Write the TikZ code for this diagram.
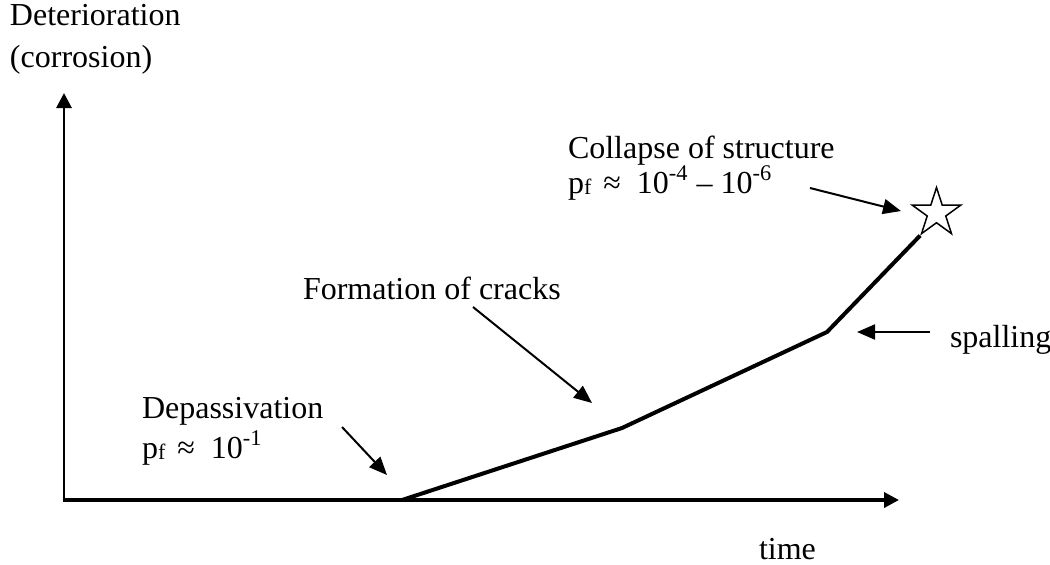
\documentclass[tikz,border=0pt]{standalone}
\usepackage{fontspec}
\setmainfont{Liberation Serif}
\usetikzlibrary{arrows.meta,shapes.geometric}
\tikzset{
  lbl/.style={anchor=base west,inner sep=0pt,outer sep=0pt,font=\fontsize{16}{19}\selectfont},
  axisline/.style={line width=1.6pt,-{Triangle[length=7.5pt,width=7.5pt]}},
  curveline/.style={line width=2pt,line join=miter},
  annarrow/.style={line width=1pt,-{Triangle[length=9pt,width=7.5pt]}},
  starshape/.style={star,star points=5,star point ratio=2.618,minimum size=25.5pt,inner sep=0pt,draw,line width=0.75pt}
}
\newcommand{\pfsym}{p\raisebox{-0.8pt}{\fontsize{11}{11}\selectfont f}}
\begin{document}
\begin{tikzpicture}[x=0.5pt,y=-0.5pt]
\useasboundingbox (0,0) rectangle (1050,564);
% axes
\coordinate (O) at (64,500);
\coordinate (ytip) at (64,93);
\coordinate (xtip) at (899,500);
\draw[axisline,line width=1.4pt] ([yshift=-0.9pt]O) -- (ytip);
\draw[axisline,line width=1.8pt] ([xshift=-0.7pt]O) -- (xtip);
% labels
\node[lbl] (ylab1) at (10,25) {Deterioration};
\node[lbl] (ylab2) at (10,67) {(corrosion)};
\node[lbl] (time) at (759,559) {time};
\node[lbl] (coll1) at (568,158) {Collapse of structure};
\node[lbl] (coll2) at (568,193) {\pfsym\hspace{6pt}≈\hspace{8pt}10\textsuperscript{-4} – 10\textsuperscript{-6}};
\node[lbl] (form) at (303,299) {Formation of cracks};
\node[lbl] (dep1) at (142,418) {Depassivation};
\node[lbl] (dep2) at (142,458) {\pfsym\hspace{6pt}≈\hspace{8pt}10\textsuperscript{-1}};
\node[lbl] (spall) at (950,347) {spalling};
% star
\node[starshape] (star) at (936.5,213) {};
% deterioration curve
\coordinate (c0) at (402,500);
\coordinate (c1) at (622,428);
\coordinate (c2) at (827,332);
\draw[curveline] (c0) -- (c1) -- (c2) -- (star.outer point 3);
% annotation arrows
\coordinate (a1) at (810,188);
\coordinate (t1) at (901,211);
\coordinate (a2) at (473,307);
\coordinate (t2) at (592,403);
\coordinate (a3) at (342,427);
\coordinate (t3) at (387,475);
\coordinate (a4) at (930,332);
\coordinate (t4) at (857,332);
\draw[annarrow] (a1) -- (t1);
\draw[annarrow] (a2) -- (t2);
\draw[annarrow] (a3) -- (t3);
\draw[annarrow] (a4) -- (t4);
\end{tikzpicture}
\end{document}
